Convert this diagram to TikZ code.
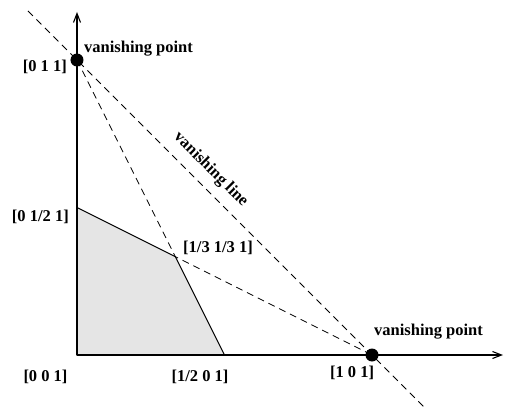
\documentclass[tikz,border=0pt]{standalone}
\usepackage{fontspec}
\setmainfont{Liberation Serif}
\usetikzlibrary{arrows.meta}

\begin{document}
\begin{tikzpicture}[x=1pt, y=1pt,
  every node/.style={font=\fontsize{16.5}{18}\selectfont\bfseries, inner sep=0pt},
  vpoint/.style={circle, fill=black, minimum size=13pt, inner sep=0pt},
  dline/.style={dash pattern=on 7pt off 5pt, line width=0.8pt},
  axis/.style={line width=1.1pt, -{Straight Barb[length=9pt, width=7pt]}}]
  \useasboundingbox (-77,-55) rectangle (429,355);

  % Points of the picture
  \coordinate (o) at (0,0);
  \coordinate (xend) at (426,0);
  \coordinate (yend) at (0,343);
  \coordinate (a) at (0,147.5);
  \coordinate (b) at (147.5,0);
  \coordinate (p) at (98.3,98.3);
  \coordinate (vl1) at (-49,344);
  \coordinate (vl2) at (348,-53);

  % Shaded region
  \filldraw[fill=black!10, line width=1pt] (o) -- (a) -- (p) -- (b) -- cycle;

  % Axes
  \draw[axis] (o) -- (xend);
  \draw[axis] (o) -- (yend);

  % Vanishing points
  \node[vpoint] (vp1) at (0,295) {};
  \node[vpoint] (vp2) at (295,0) {};

  % Dashed lines
  \draw[dline] (vl1) -- node[sloped, above=9pt, pos=0.43] (vline) {vanishing line} (vl2);
  \draw[dline] (vp1.center) -- (p) -- (vp2.center);

  % Labels
  \node[anchor=west] (vp1lab) at (7,306) {vanishing point};
  \node[anchor=west] (vp2lab) at (297,23) {vanishing point};
  \node[anchor=east] (l011) at (-10,288) {[0 1 1]};
  \node[anchor=east] (l0h1) at (-8,138) {[0 1/2 1]};
  \node[anchor=west] (l331) at (106,107) {[1/3 1/3 1]};
  \node (l001) at (-31.5,-22) {[0 0 1]};
  \node (lh01) at (123,-22) {[1/2 0 1]};
  \node (l101) at (275,-18) {[1 0 1]};
\end{tikzpicture}
\end{document}
